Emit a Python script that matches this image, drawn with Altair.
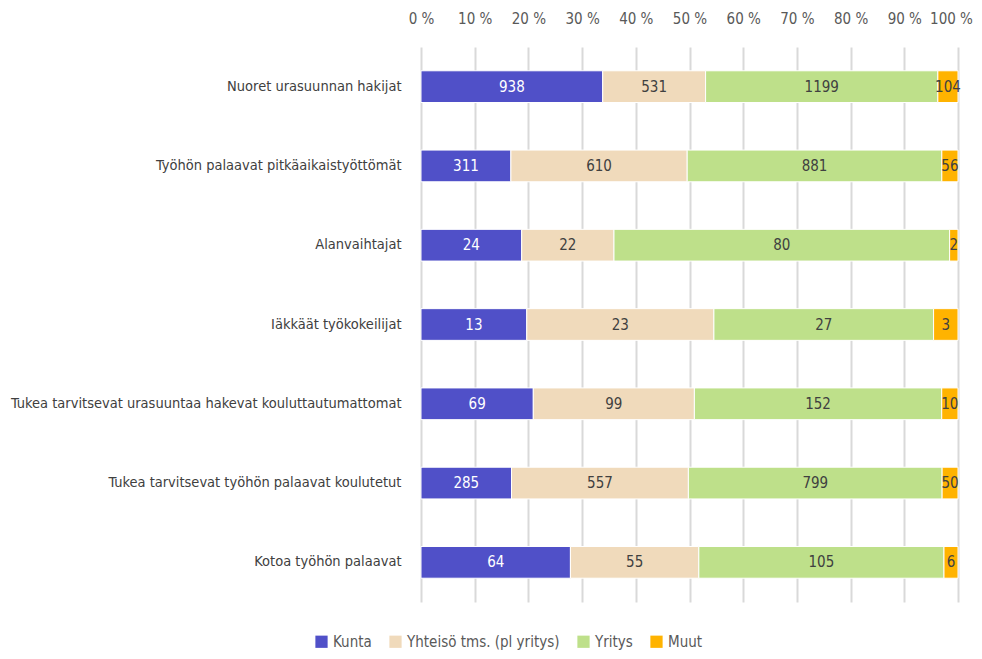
import altair as alt
import pandas as pd

categories = [
    "Nuoret urasuunnan hakijat",
    "Työhön palaavat pitkäaikaistyöttömät",
    "Alanvaihtajat",
    "Iäkkäät työkokeilijat",
    "Tukea tarvitsevat urasuuntaa hakevat kouluttautumattomat",
    "Tukea tarvitsevat työhön palaavat koulutetut",
    "Kotoa työhön palaavat",
]
series = ["Kunta", "Yhteisö tms. (pl yritys)", "Yritys", "Muut"]
kunta = [938, 311, 24, 13, 69, 285, 64]
yhteiso = [531, 610, 22, 23, 99, 557, 55]
yritys = [1199, 881, 80, 27, 152, 799, 105]
muut = [104, 56, 2, 3, 10, 50, 6]
colors = ["#5050C8", "#F0DABB", "#BEE08A", "#FFB300"]
text_colors = ["#FFFFFF", "#404040", "#404040", "#404040"]

rows = []
for vals, s, k in zip([kunta, yhteiso, yritys, muut], series, range(4)):
    for c, v in zip(categories, vals):
        rows.append({"cat": c, "series": s, "value": v, "order": k, "tc": text_colors[k]})
df = pd.DataFrame(rows)

FONT = "DejaVu Sans Condensed, sans-serif"

base = alt.Chart(df).transform_stack(
    stack="value", groupby=["cat"], as_=["x0", "x1"], offset="normalize",
    sort=[alt.SortField("order", order="ascending")]
).transform_calculate(mid="(datum.x0 + datum.x1) / 2")

y = alt.Y("cat:N", sort=categories, title=None,
          scale=alt.Scale(paddingInner=0.6, paddingOuter=0.3),
          axis=alt.Axis(domain=False, ticks=False, labelPadding=20, labelFontSize=14.5,
                        labelColor="#404040", labelFont=FONT, labelLimit=500))

bars = base.mark_bar(stroke="white", strokeWidth=1).encode(
    y=y,
    x=alt.X("x0:Q", scale=alt.Scale(domain=[0, 1]), title=None,
            axis=alt.Axis(orient="top", values=[i / 10 for i in range(11)],
                          labelExpr="round(datum.value*100) + ' %'",
                          labelOverlap=False, labelFlush=False,
                          labelOffset={"condition": {"test": "datum.value == 1", "value": -7}, "value": 0},
                          domain=False, ticks=False, labelPadding=21,
                          labelFontSize=15, labelColor="#595959", labelFont=FONT,
                          gridColor="#D9D9D9", gridWidth=2)),
    x2="x1:Q",
    color=alt.Color("series:N", sort=series, title=None,
                    scale=alt.Scale(domain=series, range=colors),
                    legend=alt.Legend(orient="none", direction="horizontal",
                                      legendX=-107, legendY=587,
                                      symbolType="square", symbolSize=150,
                                      symbolStrokeWidth=0,
                                      labelFontSize=15, labelColor="#595959",
                                      labelFont=FONT, columnPadding=16,
                                      labelLimit=300)),
)

texts = base.mark_text(fontSize=15, font=FONT).encode(
    y=alt.Y("cat:N", sort=categories),
    x=alt.X("mid:Q"),
    text=alt.Text("value:Q"),
    color=alt.Color("tc:N", scale=None),
)

chart = alt.layer(bars, texts).properties(
    width=537, height=555,
    autosize=alt.AutoSizeParams(type="none"),
    padding={"left": 413, "top": 39, "right": 16, "bottom": 48},
).configure_view(stroke=None)

chart.save("out.html", embed_options={"renderer": "svg", "actions": False})
